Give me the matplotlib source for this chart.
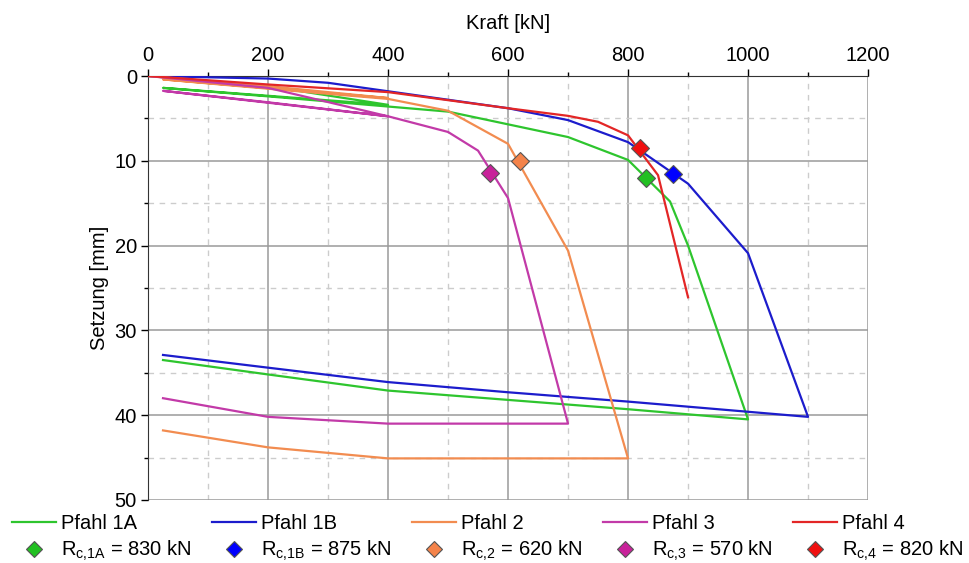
import numpy as np
import matplotlib.pyplot as plt
from matplotlib.lines import Line2D

plt.rcParams['font.family'] = ['Liberation Sans', 'DejaVu Sans']
plt.rcParams['mathtext.fontset'] = 'custom'
plt.rcParams['mathtext.rm'] = 'Liberation Sans'
plt.rcParams['mathtext.it'] = 'Liberation Sans'

# Kraft [kN] / Setzung [mm] (load, unload, reload, unload)
kraft_1a = [0, 200, 400, 25, 200, 400, 500, 600, 700, 800, 870, 900, 1000, 800, 600, 400, 200, 25]
setz_1a = [0, 1.2, 3.4, 1.4, 2.4, 3.6, 4.2, 5.7, 7.2, 9.9, 14.8, 20.0, 40.5, 39.3, 38.2, 37.1, 35.2, 33.5]

kraft_1b = [0, 200, 300, 400, 600, 700, 800, 900, 1000, 1100, 800, 600, 400, 200, 25]
setz_1b = [0, 0.3, 0.8, 1.8, 3.8, 5.2, 7.8, 12.7, 20.9, 40.2, 38.4, 37.3, 36.1, 34.4, 32.9]

kraft_2 = [0, 200, 400, 25, 200, 400, 500, 600, 700, 800, 400, 200, 25]
setz_2 = [0, 1.2, 2.6, 0.4, 1.5, 2.7, 4.1, 8.0, 20.6, 45.1, 45.1, 43.8, 41.8]

kraft_3 = [0, 200, 400, 25, 200, 400, 500, 550, 600, 700, 400, 200, 25]
setz_3 = [0, 1.4, 4.75, 1.75, 3.1, 4.75, 6.6, 8.8, 14.4, 41.0, 41.0, 40.2, 38.0]

kraft_4 = [0, 200, 400, 600, 700, 750, 800, 850, 900]
setz_4 = [0, 1.0, 1.9, 3.8, 4.7, 5.4, 7.0, 11.7, 26.1]

# Grenzwerte R_c
rc_kraft = [830, 875, 620, 570, 820]
rc_setz = [12.0, 11.5, 10.0, 11.4, 8.5]
rc_labels = ['1A', '1B', '2', '3', '4']

names = ['Pfahl 1A', 'Pfahl 1B', 'Pfahl 2', 'Pfahl 3', 'Pfahl 4']
line_colors = ['#2ec52e', '#1c1ccc', '#f28c50', '#c23aa8', '#e32626']
marker_colors = ['#22c022', '#0000ff', '#f4834a', '#c8229a', '#f01010']

fig = plt.figure(figsize=(9.7, 5.63), dpi=100)
ax = fig.add_axes([0.1526, 0.112, 0.7423, 0.753])

curves = [(kraft_1a, setz_1a), (kraft_1b, setz_1b), (kraft_2, setz_2),
          (kraft_3, setz_3), (kraft_4, setz_4)]
for (x, y), c in zip(curves, line_colors):
    ax.plot(x, y, color=c, lw=1.6, zorder=3)

for i in range(5):
    ax.plot(rc_kraft[i], rc_setz[i], 'D', ms=9, mfc=marker_colors[i],
            mec='#555555', mew=0.8, zorder=4)

ax.set_xlim(0, 1200)
ax.set_ylim(50, 0)
ax.set_xticks(np.arange(0, 1201, 200))
ax.set_xticks(np.arange(100, 1200, 200), minor=True)
ax.set_yticks(np.arange(0, 51, 10))
ax.set_yticks(np.arange(5, 50, 10), minor=True)
ax.xaxis.tick_top()
ax.xaxis.set_label_position('top')
ax.tick_params(which='major', direction='out', length=5, width=1, labelsize=14.5, pad=3)
ax.tick_params(which='minor', direction='out', length=3, width=1)
ax.grid(which='major', color='#9a9a9a', lw=1.1)
ax.grid(which='minor', color='#cccccc', lw=1, ls=(0, (4, 4)))
ax.set_axisbelow(True)
for s in ['right', 'bottom']:
    ax.spines[s].set_visible(False)
ax.spines['left'].set_color('#333333')
ax.spines['top'].set_color('#333333')

ax.set_xlabel('Kraft [kN]', fontsize=14.5, labelpad=12)
ax.set_ylabel('Setzung [mm]', fontsize=14.5, labelpad=4)

handles = []
labels = []
for i in range(5):
    handles.append(Line2D([], [], color=line_colors[i], lw=1.6))
    labels.append(names[i])
    handles.append(Line2D([], [], ls='none', marker='D', ms=8, mfc=marker_colors[i],
                          mec='#555555', mew=0.8))
    labels.append(r'R$_{\mathrm{c{,}%s}}$ = %d kN' % (rc_labels[i], rc_kraft[i]))

fig.legend(handles, labels, loc='lower left', bbox_to_anchor=(0.0, -0.022), ncol=5,
           frameon=False, fontsize=14.5, handlelength=2.2, handletextpad=0.25,
           columnspacing=1.0, labelspacing=0.3, borderaxespad=0.2)

fig.savefig('out.png', dpi=100)
